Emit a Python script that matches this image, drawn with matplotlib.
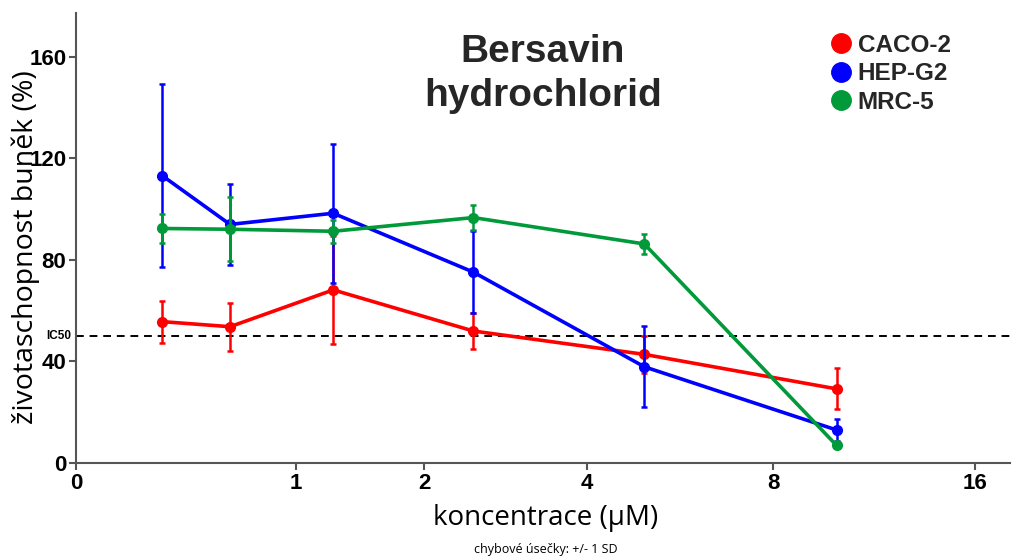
import numpy as np
import matplotlib
matplotlib.use("Agg")
from matplotlib import pyplot as plt
from matplotlib.lines import Line2D

# koncentrace (uM) a zivotaschopnost (%) +/- SD
koncentrace = [0.3125, 0.625, 1.25, 2.5, 5, 10]

caco2 = [55.7, 53.7, 68.2, 52.0, 42.8, 29.2]
caco2_sd = [8.3, 9.5, 21.3, 7.1, 7.2, 8.1]

hepg2 = [113.2, 94.0, 98.4, 75.2, 37.9, 13.0]
hepg2_sd = [36.0, 16.0, 27.4, 16.2, 16.0, 4.2]

mrc5 = [92.4, 92.1, 91.3, 96.7, 86.3, 6.9]
mrc5_sd = [5.9, 12.6, 4.5, 5.0, 4.0, 0.0]

serie = [("CACO-2", caco2, caco2_sd, "#ff0000"),
         ("HEP-G2", hepg2, hepg2_sd, "#0000ff"),
         ("MRC-5", mrc5, mrc5_sd, "#009a3a")]

x_ticky = [0, 1, 2, 4, 8, 16]
y_ticky = [0, 40, 80, 120, 160]
ic50 = 50

seda = "#262626"

def dopredu(x):
    return np.log2(np.maximum(np.asarray(x, dtype=float), -0.999) + 1)

def zpet(y):
    return 2.0 ** np.asarray(y, dtype=float) - 1

fig = plt.figure(figsize=(10.14, 5.57), dpi=100)
ax = fig.add_axes([76 / 1014, 1 - 463 / 557, (1010 - 76) / 1014, (463 - 13) / 557])

for i, (nazev, hodnoty, sd, barva) in enumerate(serie):
    ax.errorbar(koncentrace, hodnoty, yerr=sd, color=barva, lw=2.6, marker="o",
                markersize=7, elinewidth=1.8, capsize=2.5, capthick=1.8,
                zorder=3 + i)

ax.axhline(ic50, color="black", lw=1.4, ls=(0, (4, 3)), zorder=2)

ax.set_xscale("function", functions=(dopredu, zpet))
ax.set_xlim(0, 18)
ax.set_ylim(0, 177.3)
ax.set_xticks(x_ticky)
ax.set_xticklabels([str(t) for t in x_ticky])
ax.set_yticks(y_ticky)
ax.minorticks_off()

for s in ["top", "right"]:
    ax.spines[s].set_visible(False)
for s in ["left", "bottom"]:
    ax.spines[s].set_color("#555555")
    ax.spines[s].set_linewidth(1.5)

ax.tick_params(axis="both", colors="#555555", width=1.5, length=5,
               labelcolor="black", labelsize=16, pad=2)
for lab in ax.get_xticklabels() + ax.get_yticklabels():
    lab.set_fontweight("bold")
    lab.set_family("Liberation Sans")

ax.text(-0.005, ic50, "IC50", transform=ax.get_yaxis_transform(), ha="right",
        va="center", fontsize=8.5, fontweight="bold", family="Liberation Sans")

ax.set_xlabel("koncentrace (µM)", fontsize=20, family="Open Sans", va="top")
ax.xaxis.set_label_coords((546 - 76) / 934, (463 - 504) / 450)
ax.set_ylabel("životaschopnost buněk (%)", fontsize=20.5, family="Open Sans")
ax.yaxis.set_label_coords((40 - 76) / 934, (463 - 247) / 450)

fig.text(543 / 1014, 1 - 74 / 557, "Bersavin\nhydrochlorid", ha="center", va="center",
         fontsize=28, fontweight="bold", color=seda, family="Liberation Sans",
         linespacing=1.25)

fig.text(546 / 1014, 1 - 549 / 557, "chybové úsečky: +/- 1 SD", ha="center",
         va="center", fontsize=9, family="Open Sans")

handles = [Line2D([], [], ls="none", marker="o", markersize=14, color=b)
           for _, _, _, b in serie]
leg = fig.legend(handles, [s[0] for s in serie], loc="upper left",
                 bbox_to_anchor=(831 / 1014, 1 - 34 / 557), frameon=False,
                 handlelength=0.8, handletextpad=0.3, labelspacing=0.22,
                 borderpad=0, borderaxespad=0,
                 prop={"family": "Liberation Sans", "weight": "bold", "size": 17.5})
for t in leg.get_texts():
    t.set_color(seda)

fig.savefig("out.png", dpi=100)
